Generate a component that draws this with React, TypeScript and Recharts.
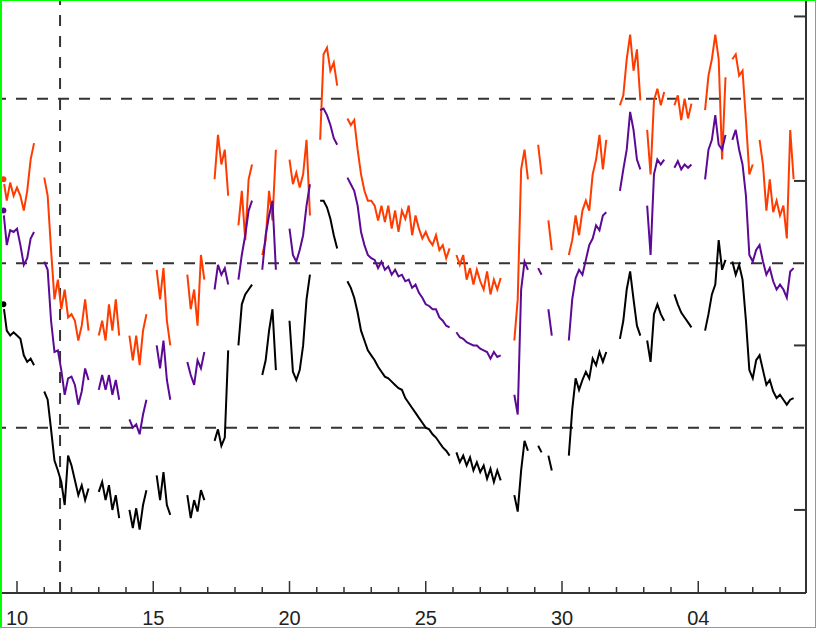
import React from 'react';
import { LineChart, Line, XAxis, YAxis, ReferenceLine } from 'recharts';

// flux, log10 units, sampled every 3 h starting on day 9.5 (null = data gap)
const orange = [
    3.01, 2.88, 2.99, 2.91, 2.96, 2.91, 2.82, 2.94, 3.13, 3.23,
    null, null, 3.02, 2.91, 2.58, 2.28, 2.40, 2.22, 2.34, 2.17,
    2.19, 2.15, 2.03, 2.12, 2.28, 2.09, null, null, 2.06, 2.15,
    2.03, 2.25, 2.09, 2.28, 2.06, null, null, 2.06, 1.91, 2.06,
    1.88, 2.09, 2.19, null, null, 2.46, 2.28, 2.47, 2.15, 2.00,
    null, null, null, null, 2.43, 2.22, 2.34, 2.12, 2.55, 2.40,
    null, null, 3.01, 3.28, 3.10, 3.19, 2.91, null, null, 2.73,
    2.94, 2.64, 3.01, 3.10, null, null, 2.55, 2.64, 2.94, 2.76,
    3.19, null, null, null, 3.13, 2.98, 3.05, 2.96, 3.04, 3.25,
    2.79, null, null, 3.25, 3.77, 3.81, 3.67, 3.72, 3.58, null,
    null, 3.38, 3.34, 3.37, 3.19, 3.04, 2.94, 2.88, 2.88, 2.85,
    2.76, 2.85, 2.75, 2.85, 2.71, 2.82, 2.69, 2.82, 2.77, 2.85,
    2.67, 2.79, 2.71, 2.65, 2.69, 2.64, 2.61, 2.67, 2.58, 2.61,
    2.53, 2.59, null, 2.55, 2.49, 2.55, 2.40, 2.47, 2.37, 2.46,
    2.39, 2.34, 2.45, 2.31, 2.40, 2.34, 2.41, null, null, null,
    2.03, 2.28, 3.07, 3.19, 3.01, null, null, 3.22, 3.04, null,
    2.76, 2.58, null, null, null, null, 2.55, 2.64, 2.79, 2.67,
    2.82, 2.88, 2.82, 3.04, 3.13, 3.28, 3.07, 3.25, null, null,
    null, 3.46, 3.52, 3.74, 3.89, 3.67, 3.80, 3.49, null, 3.31,
    3.04, 3.49, 3.56, 3.46, 3.54, null, null, 3.46, 3.52, 3.37,
    3.50, 3.38, 3.47, null, null, null, 3.43, 3.64, 3.74, 3.89,
    3.74, 3.13, 3.63, null, 3.74, 3.77, 3.64, 3.67, 3.37, 3.04,
    3.10, null, 3.25, 3.10, 2.82, 3.01, 2.81, 2.88, 2.79, 2.85,
    2.65, 3.31, 3.01
];

const purple = [
    2.82, 2.61, 2.70, 2.69, 2.71, 2.61, 2.49, 2.53, 2.65, 2.69,
    null, null, 2.51, 2.46, 2.15, 1.96, 1.97, 1.85, 1.70, 1.80,
    1.81, 1.76, 1.64, 1.72, 1.86, 1.79, null, null, 1.73, 1.82,
    1.73, 1.82, 1.70, 1.79, 1.67, null, null, 1.55, 1.50, 1.52,
    1.46, 1.58, 1.67, null, null, 2.00, 1.86, 2.03, 1.79, 1.67,
    null, null, null, null, 1.90, 1.82, 1.76, 1.91, 1.86, 1.96,
    null, null, 2.34, 2.49, 2.43, 2.47, 2.37, null, null, 2.40,
    2.55, 2.67, 2.82, 2.88, null, null, 2.46, 2.67, 2.79, 2.88,
    2.46, null, null, null, 2.71, 2.55, 2.51, 2.58, 2.67, 2.85,
    2.98, null, null, 3.43, 3.44, 3.40, 3.34, 3.26, 3.22, null,
    null, 3.02, 2.98, 2.94, 2.85, 2.69, 2.61, 2.55, 2.53, 2.52,
    2.47, 2.51, 2.46, 2.48, 2.43, 2.46, 2.42, 2.43, 2.39, 2.40,
    2.35, 2.37, 2.32, 2.29, 2.25, 2.24, 2.22, 2.22, 2.17, 2.15,
    2.12, 2.11, null, 2.08, 2.05, 2.04, 2.02, 2.01, 2.00, 2.00,
    1.98, 1.97, 1.96, 1.92, 1.96, 1.93, 1.94, null, null, null,
    1.70, 1.58, 2.34, 2.51, 2.46, null, null, 2.47, 2.43, null,
    2.22, 2.06, null, null, null, null, 2.03, 2.28, 2.41, 2.46,
    2.43, 2.52, 2.61, 2.65, 2.73, 2.70, 2.79, 2.81, null, null,
    null, 2.94, 3.07, 3.19, 3.42, 3.31, 3.13, 3.07, null, 2.85,
    2.55, 3.04, 3.13, 3.10, 3.13, null, null, 3.08, 3.12, 3.07,
    3.10, 3.08, 3.10, null, null, null, 3.01, 3.19, 3.25, 3.40,
    3.22, 3.19, 3.28, null, 3.25, 3.31, 3.19, 3.10, 2.91, 2.55,
    2.51, 2.58, 2.61, 2.51, 2.43, 2.47, 2.39, 2.34, 2.37, 2.34,
    2.29, 2.45, 2.47
];

const black = [
    2.25, 2.09, 2.06, 2.08, 2.06, 2.04, 1.94, 1.90, 1.92, 1.88,
    null, null, 1.72, 1.67, 1.49, 1.30, 1.24, 1.17, 1.03, 1.33,
    1.27, 1.18, 1.09, 1.15, 1.06, 1.13, null, null, 1.11, 1.17,
    1.06, 1.15, 1.00, 1.09, 0.95, null, null, 1.00, 0.89, 1.01,
    0.88, 1.03, 1.12, null, null, 1.21, 1.06, 1.23, 1.03, 0.97,
    null, null, null, null, 1.09, 0.95, 1.06, 0.99, 1.12, 1.06,
    null, null, 1.42, 1.49, 1.39, 1.44, 1.97, null, null, 2.00,
    2.25, 2.31, 2.34, 2.37, null, null, 1.82, 1.91, 2.09, 2.22,
    1.85, null, null, null, 2.15, 1.84, 1.79, 1.85, 2.00, 2.28,
    2.43, null, null, 2.88, 2.88, 2.84, 2.77, 2.67, 2.59, null,
    null, 2.39, 2.35, 2.29, 2.20, 2.09, 2.03, 1.97, 1.94, 1.91,
    1.87, 1.84, 1.81, 1.80, 1.78, 1.76, 1.74, 1.73, 1.68, 1.65,
    1.62, 1.59, 1.56, 1.53, 1.50, 1.49, 1.46, 1.44, 1.41, 1.38,
    1.36, 1.33, null, 1.35, 1.29, 1.33, 1.27, 1.32, 1.24, 1.29,
    1.23, 1.27, 1.19, 1.25, 1.17, 1.24, 1.18, null, null, null,
    1.09, 0.99, 1.24, 1.42, 1.36, null, null, 1.39, 1.35, null,
    1.33, 1.24, null, null, null, null, 1.33, 1.61, 1.80, 1.73,
    1.79, 1.84, 1.80, 1.92, 1.88, 1.96, 1.90, 1.96, null, null,
    null, 2.04, 2.15, 2.34, 2.45, 2.28, 2.12, 2.06, null, 2.03,
    1.90, 2.19, 2.25, 2.19, 2.15, null, null, 2.31, 2.25, 2.20,
    2.17, 2.14, 2.11, null, null, null, 2.09, 2.19, 2.31, 2.37,
    2.64, 2.46, 2.52, null, 2.51, 2.43, 2.49, 2.40, 2.15, 1.85,
    1.80, 1.91, 1.94, 1.85, 1.76, 1.79, 1.72, 1.68, 1.70, 1.67,
    1.64, 1.67, 1.68
];

const startDay = 9.5;
const stepDay = 0.125;

// day ticks; days past 31 belong to the next month
const dayTicks = [10, 11, 12, 13, 14, 15, 16, 17, 18, 19, 20, 21, 22, 23, 24, 25, 26, 27, 28, 29, 30, 31, 32, 33, 34, 35, 36, 37, 38];
const dayLabels: Record<number, string> = { 10: '10', 15: '15', 20: '20', 25: '25', 30: '30', 35: '04' };
const decadeTicks = [1, 2, 3, 4];
const halfDecades = [1.5, 2.5, 3.5];
const markerDay = 11.58;

const data = orange.map((o, i) => ({
    t: startDay + i * stepDay,
    orange: o,
    purple: purple[i],
    black: black[i]
}));

const AXIS = '#333';

const XTick = ({ x, y, payload }: any) => {
    const label = dayLabels[payload.value];
    const major = label !== undefined;
    return (
        <g>
            <line x1={x} x2={x} y1={y} y2={y - (major ? 12 : 6)} stroke={AXIS} strokeWidth={1.5} />
            {major && (
                <text x={x} y={y + 32} textAnchor="middle" fontSize={20} fontFamily="'Liberation Sans', Arial, sans-serif" fill="#222">
                    {label}
                </text>
            )}
        </g>
    );
};

const YTick = ({ x, y }: any) => (
    <line x1={x} x2={x - 12} y1={y} y2={y} stroke={AXIS} strokeWidth={2} />
);

export default function App() {
    return (
        <div style={{ position: 'absolute', left: 0, top: 0, width: 816, height: 628, background: '#fff' }}>
            <LineChart width={816} height={628} data={data} margin={{ top: 0, right: 0, bottom: 0, left: 0 }}>
                <XAxis
                    dataKey="t"
                    type="number"
                    domain={[9.376, 38.954]}
                    ticks={dayTicks}
                    interval={0}
                    height={35}
                    tickSize={0}
                    tickMargin={0}
                    tickLine={false}
                    tick={<XTick />}
                    axisLine={{ stroke: AXIS, strokeWidth: 2 }}
                    allowDataOverflow
                />
                <YAxis
                    yAxisId="r"
                    orientation="right"
                    type="number"
                    domain={[0.495, 4.1]}
                    ticks={decadeTicks}
                    width={10}
                    tickSize={0}
                    tickMargin={0}
                    tickLine={false}
                    tick={<YTick />}
                    axisLine={{ stroke: AXIS, strokeWidth: 2 }}
                    allowDataOverflow
                />
                {halfDecades.map((v) => (
                    <ReferenceLine key={v} yAxisId="r" y={v} stroke={AXIS} strokeWidth={2} strokeDasharray="11 10" strokeDashoffset={19} />
                ))}
                <ReferenceLine yAxisId="r" x={markerDay} stroke={AXIS} strokeWidth={2} strokeDasharray="11 10" />
                <Line yAxisId="r" dataKey="orange" stroke="#ff3c00" strokeWidth={2} dot={false} isAnimationActive={false} />
                <Line yAxisId="r" dataKey="purple" stroke="#5c0a96" strokeWidth={2} dot={false} isAnimationActive={false} />
                <Line yAxisId="r" dataKey="black" stroke="#000" strokeWidth={2} dot={false} isAnimationActive={false} />
            </LineChart>
            <div style={{ position: 'absolute', inset: 0, boxSizing: 'border-box', borderStyle: 'solid', borderColor: '#00ff00', borderWidth: '1px 1px 1px 2px', pointerEvents: 'none' }} />
        </div>
    );
}
